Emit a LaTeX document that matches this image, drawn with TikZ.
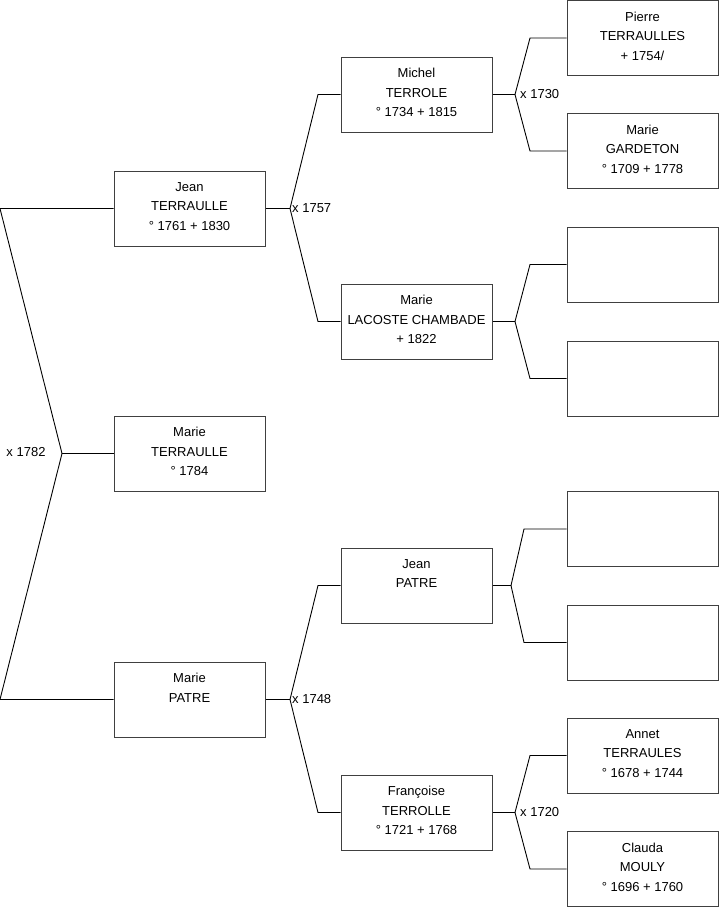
\documentclass[tikz,border=0pt]{standalone}
\usepackage{fontspec}
\setmainfont{Liberation Sans}
\usetikzlibrary{positioning}

\begin{document}
\begin{tikzpicture}[
    x=1pt, y=-1pt,
    every node/.style={font=\fontsize{13}{19.5}\selectfont, align=center},
    person/.style={draw=black!75, line width=1pt, minimum width=151pt, minimum height=75pt, inner sep=0pt, fill=white,
        execute at end node={\rule[-4pt]{0pt}{4pt}}},
    link/.style={line width=0.9pt, black},
    wedding/.style={anchor=west, inner sep=2pt}
]
    \useasboundingbox (0,0) rectangle (719,908);

    \node[person] (jean) at (189.5,208.5) {Jean\\TERRAULLE\\° 1761 + 1830};
    \node[person] (marieT) at (189.5,453.5) {Marie\\TERRAULLE\\° 1784};
    \node[person] (marieP) at (189.5,699.5) {Marie\\PATRE\\~};

    \node[person] (michel) at (416.5,94.5) {Michel\\TERROLE\\° 1734 + 1815};
    \node[person] (marieL) at (416.5,321.5) {Marie\\LACOSTE CHAMBADE\\+ 1822};
    \node[person] (jeanP) at (416.5,585.5) {Jean\\PATRE\\~};
    \node[person] (francoise) at (416.5,812.5) {Françoise\\TERROLLE\\° 1721 + 1768};

    \node[person] (pierre) at (642.5,38) {Pierre\\TERRAULLES\\+ 1754/};
    \node[person] (marieG) at (642.5,151) {Marie\\GARDETON\\° 1709 + 1778};
    \node[person] (blankA) at (642.5,264.5) {};
    \node[person] (blankB) at (642.5,378.5) {};
    \node[person] (blankC) at (642.5,529) {};
    \node[person] (blankD) at (642.5,642.5) {};
    \node[person] (annet) at (642.5,755.5) {Annet\\TERRAULES\\° 1678 + 1744};
    \node[person] (clauda) at (642.5,869) {Clauda\\MOULY\\° 1696 + 1760};

    \coordinate (k1782) at (62,453.5);
    \coordinate (a1782) at (0,208.5);
    \coordinate (b1782) at (0,699.5);
    \coordinate (k1757) at (290,208.5);
    \coordinate (a1757) at (318,94.5);
    \coordinate (b1757) at (318,321.5);
    \coordinate (k1748) at (290,699.5);
    \coordinate (a1748) at (318,585.5);
    \coordinate (b1748) at (318,812.5);
    \coordinate (k1730) at (515,94.5);
    \coordinate (a1730) at (530,38);
    \coordinate (b1730) at (530,151);
    \coordinate (kL) at (515,321.5);
    \coordinate (aL) at (530,264.5);
    \coordinate (bL) at (530,378.5);
    \coordinate (kP) at (511,585.5);
    \coordinate (aP) at (524,529);
    \coordinate (bP) at (524,642.5);
    \coordinate (k1720) at (515,812.5);
    \coordinate (a1720) at (530,755.5);
    \coordinate (b1720) at (530,869);

    \draw[link] (marieT) -- (k1782);
    \draw[link] (jean) -- (a1782) -- (k1782) -- (b1782) -- (marieP);
    \draw[link] (jean) -- (k1757);
    \draw[link] (michel) -- (a1757) -- (k1757) -- (b1757) -- (marieL);
    \draw[link] (marieP) -- (k1748);
    \draw[link] (jeanP) -- (a1748) -- (k1748) -- (b1748) -- (francoise);
    \draw[link] (michel) -- (k1730);
    \draw[link] (pierre) -- (a1730) -- (k1730) -- (b1730) -- (marieG);
    \draw[link] (marieL) -- (kL);
    \draw[link] (blankA) -- (aL) -- (kL) -- (bL) -- (blankB);
    \draw[link] (jeanP) -- (kP);
    \draw[link] (blankC) -- (aP) -- (kP) -- (bP) -- (blankD);
    \draw[link] (francoise) -- (k1720);
    \draw[link] (annet) -- (a1720) -- (k1720) -- (b1720) -- (clauda);

    \node (w1782) at (26,452) {x 1782};
    \node[wedding] (w1757) at (k1757) {x 1757};
    \node[wedding] (w1748) at (k1748) {x 1748};
    \node[wedding, xshift=3pt] (w1730) at (k1730) {x 1730};
    \node[wedding, xshift=3pt] (w1720) at (k1720) {x 1720};
\end{tikzpicture}
\end{document}
